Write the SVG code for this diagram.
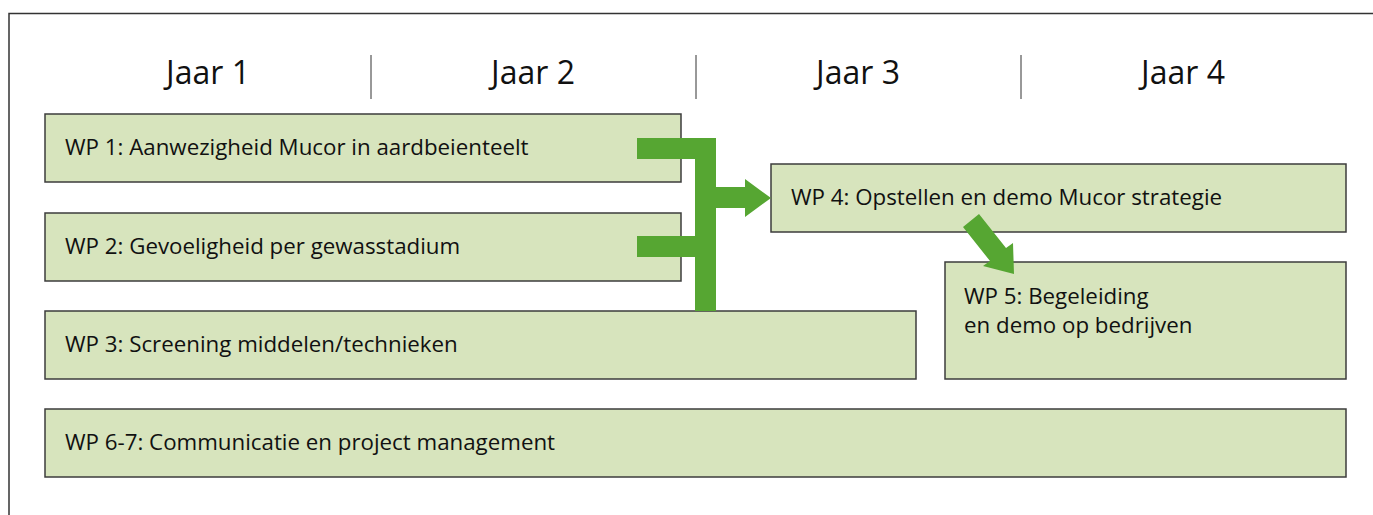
<svg xmlns="http://www.w3.org/2000/svg" width="1373" height="515" viewBox="0 0 1373 515">
<style>
.box{fill:#d7e4bd;stroke:#3c3c3c;stroke-width:1.5}
.lbl{font-family:"Open Sans","Liberation Sans",sans-serif;font-size:22.3px;fill:#111}
.hdr{font-family:"Open Sans","Liberation Sans",sans-serif;font-size:32px;fill:#111;text-anchor:middle}
.div{stroke:#333;stroke-width:1}
.arr{fill:#56a632;stroke:none}
</style>
<rect width="1373" height="515" fill="#fff"/>
<g id="frame">
<path d="M9,515 V13.5 H1373" fill="none" stroke="#333" stroke-width="1.5"/>
</g>
<g id="headers">
<text class="hdr" x="208" y="84">Jaar 1</text>
<text class="hdr" x="533" y="84">Jaar 2</text>
<text class="hdr" x="858" y="84">Jaar 3</text>
<text class="hdr" x="1183" y="84">Jaar 4</text>
<line class="div" x1="371" y1="55" x2="371" y2="99"/>
<line class="div" x1="696" y1="55" x2="696" y2="99"/>
<line class="div" x1="1021" y1="55" x2="1021" y2="99"/>
</g>
<g id="wp1"><rect class="box" x="45" y="114" width="636" height="68"/><text class="lbl" x="65" y="155">WP 1: Aanwezigheid Mucor in aardbeienteelt</text></g>
<g id="wp2"><rect class="box" x="45" y="213" width="636" height="68"/><text class="lbl" x="65" y="254">WP 2: Gevoeligheid per gewasstadium</text></g>
<g id="wp3"><rect class="box" x="45" y="311" width="871" height="68"/><text class="lbl" x="65" y="352">WP 3: Screening middelen/technieken</text></g>
<g id="wp4"><rect class="box" x="771" y="164" width="575" height="68"/><text class="lbl" x="791" y="205">WP 4: Opstellen en demo Mucor strategie</text></g>
<g id="wp5"><rect class="box" x="945" y="262" width="401" height="117"/><text class="lbl" x="964" y="304">WP 5: Begeleiding</text><text class="lbl" x="964" y="333">en demo op bedrijven</text></g>
<g id="wp67"><rect class="box" x="45" y="409" width="1301" height="68"/><text class="lbl" x="65" y="450">WP 6-7: Communicatie en project management</text></g>
<g id="connectors">
<path class="arr" d="M637,138 H716 V187 H745 V179 L771,198 L745,217 V208 H716 V311 H695 V257 H637 V236 H695 V159 H637 Z"/>
<polygon class="arr" points="963,227 979,214 1006,248 1013,243 1014,274 983,266 990,261"/>
</g>
</svg>
